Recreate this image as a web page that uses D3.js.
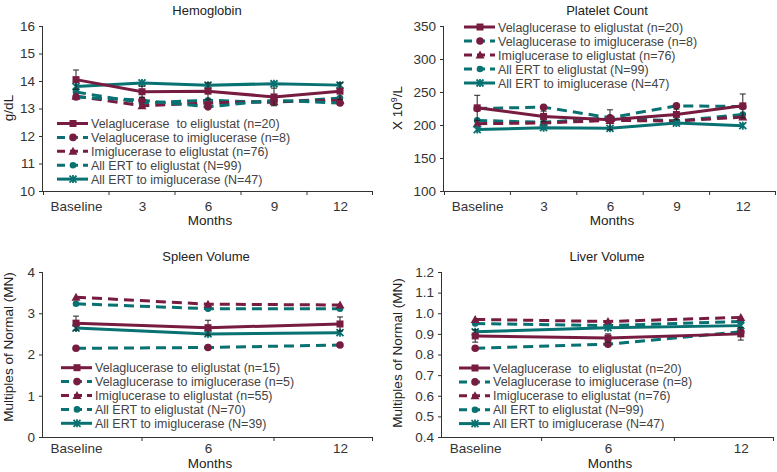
<!DOCTYPE html>
<html><head><meta charset="utf-8">
<script src="https://cdn.jsdelivr.net/npm/d3@7"></script>
<style>body{margin:0;background:#fff}svg{font-family:"Liberation Sans",Arial,sans-serif}</style>
</head><body><svg id="c" width="777" height="472"></svg>
<script>
const monthsAll = ["Baseline","3","6","9","12"];
const monthsShort = ["Baseline","6","12"];

// Hemoglobin (g/dL)
const hbVelaEli = [14.05, 13.61, 13.63, 13.42, 13.63];
const hbVelaEliErr = [0.35, 0.2, 0.3, 0.32, 0.3];
const hbVelaImi = [13.42, 13.3, 13.06, 13.3, 13.2];
const hbImiEli = [13.45, 13.1, 13.2, 13.25, 13.3];
const hbAllEli = [13.6, 13.2, 13.3, 13.22, 13.38];
const hbAllImi = [13.8, 13.93, 13.85, 13.9, 13.85];

// Platelet count (x10^9/L)
const plVelaEli = [226, 213, 208, 216, 229];
const plVelaEliErr = [19, 8, 15, 8, 18];
const plVelaImi = [225, 227, 211, 229, 228];
const plImiEli = [202, 203, 207, 206, 212];
const plAllEli = [207, 204, 211, 206, 216];
const plAllImi = [193, 196, 195, 203, 199];

// Spleen volume (MN)
const spVelaEli = [2.76, 2.65, 2.74];
const spVelaEliErr = [0.17, 0.18, 0.17];
const spVelaImi = [2.15, 2.17, 2.23];
const spImiEli = [3.39, 3.22, 3.2];
const spAllEli = [3.23, 3.11, 3.11];
const spAllImi = [2.64, 2.5, 2.53];

// Liver volume (MN)
const lvVelaEli = [0.89, 0.88, 0.90];
const lvVelaEliErr = [0.03, 0.02, 0.03];
const lvVelaImi = [0.83, 0.85, 0.91];
const lvImiEli = [0.97, 0.96, 0.98];
const lvAllEli = [0.95, 0.94, 0.96];
const lvAllImi = [0.91, 0.93, 0.94];

const legHb = ["Velaglucerase  to eliglustat (n=20)","Velaglucerase to imiglucerase (n=8)","Imiglucerase to eliglustat (n=76)","All ERT to eliglustat (N=99)","All ERT to imiglucerase (N=47)"];
const legPl = ["Velaglucerase to eliglustat (n=20)","Velaglucerase to imiglucerase (n=8)","Imiglucerase to eliglustat (n=76)","All ERT to eliglustat (N=99)","All ERT to imiglucerase (N=47)"];
const legSp = ["Velaglucerase to eliglustat (n=15)","Velaglucerase to imiglucerase (n=5)","Imiglucerase to eliglustat (n=55)","All ERT to eliglustat (N=70)","All ERT to imiglucerase (N=39)"];
const legLv = ["Velaglucerase  to eliglustat (n=20)","Velaglucerase to imiglucerase (n=8)","Imiglucerase to eliglustat (n=76)","All ERT to eliglustat (N=99)","All ERT to imiglucerase (N=47)"];

const MAROON = "#771c40", TEAL = "#087171";
// style per series index: 0 VelaEli,1 VelaImi,2 ImiEli,3 AllEli,4 AllImi
const styles = [
  {line: MAROON, dash: null, marker: "square", mcol: MAROON},
  {line: TEAL, dash: "10,6", marker: "circle", mcol: MAROON},
  {line: MAROON, dash: "10,6", marker: "triangle", mcol: MAROON},
  {line: TEAL, dash: "10,6", marker: "dot", mcol: TEAL},
  {line: TEAL, dash: null, marker: "star", mcol: TEAL}
];

const svg = d3.select("#c");

function drawMarker(g, type, x, y, col) {
  if (type === "square") g.append("rect").attr("x", x-3.5).attr("y", y-3.5).attr("width", 7).attr("height", 7).attr("fill", col);
  else if (type === "circle") g.append("circle").attr("cx", x).attr("cy", y).attr("r", 3.8).attr("fill", col);
  else if (type === "dot") g.append("circle").attr("cx", x).attr("cy", y).attr("r", 3.3).attr("fill", col);
  else if (type === "triangle") g.append("path").attr("d", `M${x},${y-4.5}L${x+4.5},${y+3.5}L${x-4.5},${y+3.5}Z`).attr("fill", col);
  else if (type === "star") g.append("path").attr("d", `M${x-3.5},${y-3.5}L${x+3.5},${y+3.5}M${x+3.5},${y-3.5}L${x-3.5},${y+3.5}M${x},${y-4}L${x},${y+4}`).attr("stroke", col).attr("stroke-width", 1.8).attr("fill", "none");
}

function panel(cfg) {
  const g = svg.append("g");
  const x = d3.scalePoint().domain(monthsAll).range([cfg.left, cfg.right]).padding(0.5);
  const y = d3.scaleLinear().domain(cfg.yDomain).range([cfg.bottom, cfg.top]);
  // y axis
  const ya = g.append("g").attr("transform", `translate(${cfg.left},0)`)
    .call(d3.axisLeft(y).tickValues(cfg.yTicks).tickFormat(cfg.fmt).tickSize(4).tickPadding(4));
  ya.select(".domain").attr("stroke", "#333").attr("d", `M-0.5,${cfg.top}V${cfg.bottom}`);
  ya.selectAll(".tick line").attr("stroke", "#333");
  ya.selectAll("text").attr("font-size", 13.5).attr("fill", "#333").attr("font-family", "Liberation Sans, Arial, sans-serif");
  // x axis
  const xa = g.append("g").attr("transform", `translate(0,${cfg.bottom})`)
    .call(d3.axisBottom(x).tickValues(cfg.cats).tickSize(0).tickPadding(cfg.tickPad));
  xa.select(".domain").attr("stroke", "#333").attr("d", `M${cfg.left},0.5H${cfg.right}`);
  xa.selectAll("text").attr("font-size", 13.5).attr("fill", "#333").attr("font-family", "Liberation Sans, Arial, sans-serif");
  // minor ticks between categories
  const step = x.step();
  const tickPos = cfg.tickBetween ? monthsAll.slice(0, -1).map(m => x(m) + step/2).concat([cfg.left + 0.5, cfg.right - 0.5])
                                  : [x("3"), x("9"), cfg.right - 0.5];
  g.selectAll(".mt").data(tickPos).enter().append("line")
    .attr("x1", d => d).attr("x2", d => d).attr("y1", cfg.bottom).attr("y2", cfg.bottom + 4).attr("stroke", "#333");
  // labels
  g.append("text").attr("x", (cfg.left + cfg.right)/2 + 2).attr("y", cfg.bottom + cfg.monthsDy).attr("text-anchor", "middle")
    .attr("font-size", 13.5).attr("fill", "#222").text("Months");
  g.append("text").attr("x", cfg.titleX).attr("y", cfg.top - 11).attr("text-anchor", "middle")
    .attr("font-size", 13).attr("fill", "#222").text(cfg.title);
  const yl = g.append("text").attr("transform", `translate(${cfg.ylabX},${cfg.ylabY}) rotate(-90)`)
    .attr("text-anchor", "middle").attr("font-size", 13.5).attr("fill", "#222");
  if (cfg.sup) { yl.append("tspan").text("X 10"); yl.append("tspan").attr("font-size", 9).attr("dy", -5).text("9"); yl.append("tspan").attr("dy", 5).text("/L"); }
  else yl.text(cfg.ylabel);

  const order = [3, 2, 1, 4, 0];
  order.forEach(i => {
    const s = styles[i];
    const vals = cfg.series[i];
    const pts = vals.map((v, k) => [x(cfg.cats[k]), y(v)]);
    g.append("path").attr("d", d3.line()(pts)).attr("fill", "none").attr("stroke", s.line)
      .attr("stroke-width", 3).attr("stroke-dasharray", s.dash);
    if (i === 0) {
      cfg.err.forEach((e, k) => {
        const px = x(cfg.cats[k]);
        const yt = y(vals[k] + e), yb = y(vals[k] - e);
        g.append("path").attr("d", `M${px},${yb}V${yt}M${px-3},${yt}H${px+3}M${px-3},${yb}H${px+3}`)
          .attr("stroke", "#222").attr("stroke-width", 1).attr("fill", "none");
      });
    }
    pts.forEach(p => drawMarker(g, s.marker, p[0], p[1], s.mcol));
  });

  // legend
  cfg.legend.forEach((t, i) => {
    const s = styles[i];
    const ly = cfg.legY + i * cfg.legDy;
    const lx = cfg.legX;
    g.append("line").attr("x1", lx).attr("x2", lx + 31).attr("y1", ly).attr("y2", ly)
      .attr("stroke", s.line).attr("stroke-width", 3).attr("stroke-dasharray", s.dash ? "8,5" : null);
    drawMarker(g, s.marker, lx + 16, ly, s.mcol);
    g.append("text").attr("x", lx + 34).attr("y", ly + 4.5).attr("font-size", 12.5).attr("fill", "#444")
      .style("white-space", "pre").text(t);
  });
}

panel({left: 43, right: 373, top: 26, bottom: 191, yDomain: [10, 16], yTicks: d3.range(10, 17, 1), fmt: d3.format("d"),
  title: "Hemoglobin", titleX: 207, ylabel: "g/dL", ylabX: 13, ylabY: 108, cats: monthsAll, tickBetween: true, monthsDy: 34, tickPad: 10,
  series: [hbVelaEli, hbVelaImi, hbImiEli, hbAllEli, hbAllImi], err: hbVelaEliErr,
  legend: legHb, legX: 57, legY: 123.5, legDy: 13.9});

panel({left: 444, right: 776, top: 26, bottom: 191, yDomain: [100, 350], yTicks: d3.range(100, 351, 50), fmt: d3.format("d"),
  title: "Platelet Count", titleX: 607, sup: true, ylabX: 402, ylabY: 108, cats: monthsAll, tickBetween: true, monthsDy: 34, tickPad: 10,
  series: [plVelaEli, plVelaImi, plImiEli, plAllEli, plAllImi], err: plVelaEliErr,
  legend: legPl, legX: 464, legY: 27, legDy: 14});

panel({left: 43, right: 373, top: 272, bottom: 437, yDomain: [0, 4], yTicks: d3.range(0, 5, 1), fmt: d3.format("d"),
  title: "Spleen Volume", titleX: 206, ylabel: "Multiples of Normal (MN)", ylabX: 13, ylabY: 347, cats: monthsShort, tickBetween: false, monthsDy: 31, tickPad: 6,
  series: [spVelaEli, spVelaImi, spImiEli, spAllEli, spAllImi], err: spVelaEliErr,
  legend: legSp, legX: 61, legY: 367.7, legDy: 13.9});

panel({left: 442, right: 774, top: 272, bottom: 437, yDomain: [0.4, 1.2], yTicks: d3.range(4, 13, 1).map(v => v/10), fmt: d3.format(".1f"),
  title: "Liver Volume", titleX: 607, ylabel: "Multiples of Normal (MN)", ylabX: 402, ylabY: 353, cats: monthsShort, tickBetween: false, monthsDy: 31, tickPad: 6,
  series: [lvVelaEli, lvVelaImi, lvImiEli, lvAllEli, lvAllImi], err: lvVelaEliErr,
  legend: legLv, legX: 459, legY: 368, legDy: 13.9});
</script></body></html>
